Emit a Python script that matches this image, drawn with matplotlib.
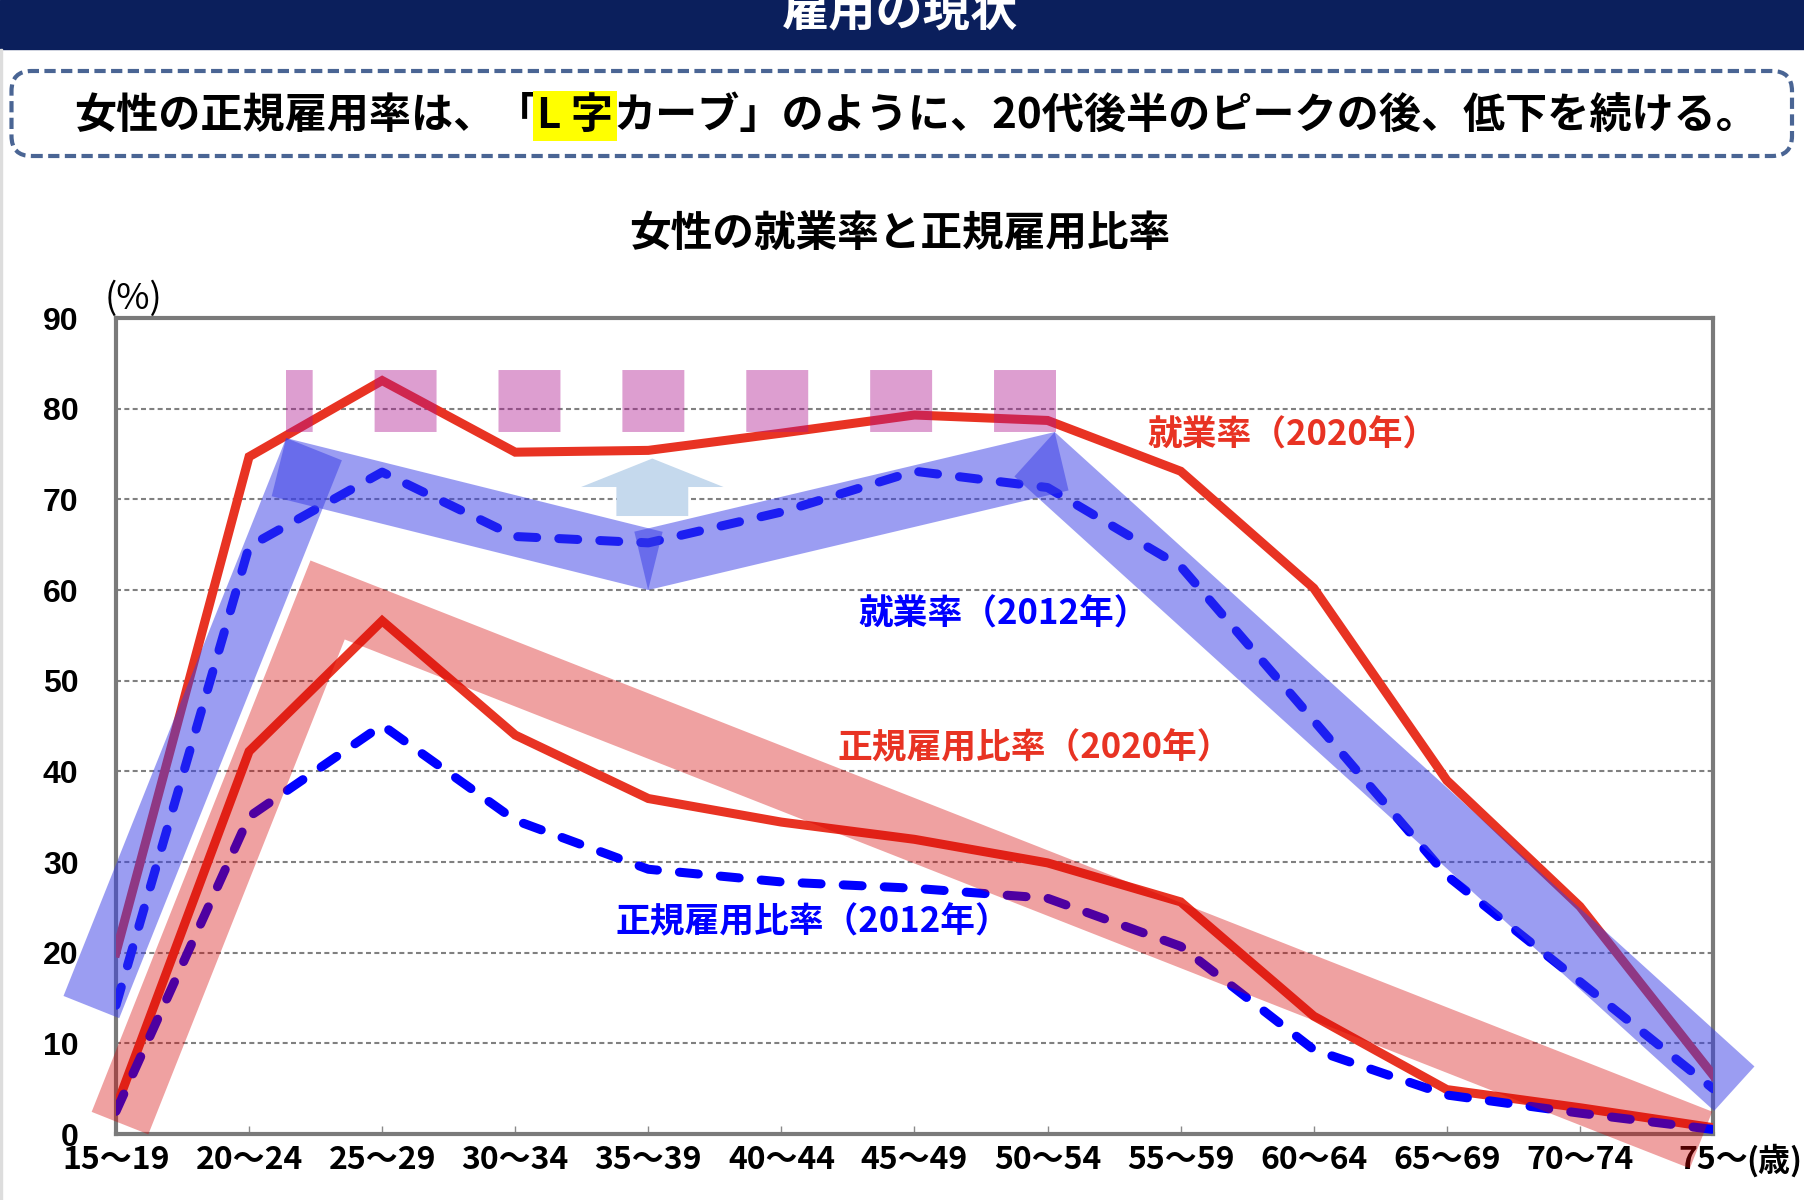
import matplotlib
matplotlib.use('Agg')
import matplotlib.pyplot as plt
import numpy as np
from matplotlib.patches import Polygon, FancyBboxPatch, Rectangle, FancyArrow

plt.rcParams['font.family'] = ['Noto Sans CJK JP', 'DejaVu Sans']

# ---------------- data ----------------
categories = ['15～19', '20～24', '25～29', '30～34', '35～39', '40～44', '45～49',
              '50～54', '55～59', '60～64', '65～69', '70～74', '75～']
emp_2020 = [20.0, 74.7, 83.1, 75.2, 75.4, 77.3, 79.3, 78.7, 73.1, 60.2, 39.0, 25.1, 6.5]
emp_2012 = [14.2, 64.8, 73.0, 65.9, 65.2, 68.6, 73.1, 71.3, 62.6, 45.6, 28.5, 16.8, 5.0]
reg_2020 = [2.9, 42.2, 56.6, 44.0, 37.0, 34.4, 32.5, 29.9, 25.6, 13.0, 4.9, 2.9, 0.7]
reg_2012 = [2.5, 35.0, 45.1, 34.6, 29.2, 27.8, 27.1, 26.0, 20.7, 9.3, 4.3, 2.3, 0.5]
y_ticks = [0, 10, 20, 30, 40, 50, 60, 70, 80, 90]

# decorative emphasis shapes (category index, %)
emp_band = [(-0.185, 14.0), (1.415, 72.85), (4.0, 63.4), (6.99, 73.8), (12.16, 5.0)]
reg_band = [(0.03, 1.2), (1.59, 58.9), (11.91, -0.66)]
peak_marks = [(7.066, 80.85), (1.278, 80.85)]
arrow_base = (4.03, 68.16)
arrow_tip_y = 74.5
arrow_head_y = 71.36

labels = [('就業率（2020年）', 8.84, 77.1, 'red'),
          ('就業率（2012年）', 6.67, 57.4, 'blue'),
          ('正規雇用比率（2020年）', 6.90, 42.6, 'red'),
          ('正規雇用比率（2012年）', 5.24, 23.35, 'blue')]

RED = '#e83323'
BLUE = '#0000ff'
W, H = 1804, 1200

fig = plt.figure(figsize=(W / 100, H / 100), dpi=100)
fig.patch.set_facecolor('white')
ax = fig.add_axes([116 / W, 1 - 1134 / H, (1713 - 116) / W, (1134 - 318) / H])
x = np.arange(len(categories))
ax.set_xlim(0, len(categories) - 1)
ax.set_ylim(0, 90)

# grid
ax.set_yticks(y_ticks)
ax.yaxis.grid(True, color='#808080', lw=1.5, linestyle=(0, (2.4, 1.6)))
ax.set_axisbelow(True)

# lines
ax.plot(x, emp_2020, color=RED, lw=6.5, solid_joinstyle='miter', zorder=3)
ax.plot(x, reg_2020, color=RED, lw=6.5, solid_joinstyle='miter', zorder=3)
ax.plot(x, emp_2012, color=BLUE, lw=6.5, dashes=(2.1, 2.45), dash_capstyle='round',
        dash_joinstyle='round', zorder=3)
ax.plot(x, reg_2012, color=BLUE, lw=6.5, dashes=(2.1, 2.45), dash_capstyle='round',
        dash_joinstyle='round', zorder=3)


def band_polys(pts_data, width_px):
    """Rectangles per segment; at each joint both rectangles are cut
    perpendicularly through the outer miter point, so they overlap inside."""
    P = ax.transData.transform(np.array(pts_data))
    h = width_px / 2.0
    n = len(P) - 1
    d, nr = [], []
    for i in range(n):
        v = P[i + 1] - P[i]
        v = v / np.hypot(v[0], v[1])
        d.append(v)
        nr.append(np.array([-v[1], v[0]]))

    def inter(A, da, B, db):
        M = np.array([da, -db]).T
        t, s = np.linalg.solve(M, B - A)
        return A + t * da

    joints = {}
    for j in range(1, n):
        cr = d[j - 1][0] * d[j][1] - d[j - 1][1] * d[j][0]
        side = -1 if cr > 0 else 1
        A = P[j] + side * nr[j - 1] * h
        B = P[j] + side * nr[j] * h
        O = inter(A, d[j - 1], B, d[j])
        joints[j] = (O, side)

    polys = []
    for i in range(n):
        if i == 0:
            sL, sR = P[0] + nr[0] * h, P[0] - nr[0] * h
        else:
            O, s = joints[i]
            if s > 0:
                sL, sR = O, O - 2 * h * nr[i]
            else:
                sL, sR = O + 2 * h * nr[i], O
        if i == n - 1:
            eL, eR = P[i + 1] + nr[i] * h, P[i + 1] - nr[i] * h
        else:
            O, s = joints[i + 1]
            if s > 0:
                eL, eR = O, O - 2 * h * nr[i]
            else:
                eL, eR = O + 2 * h * nr[i], O
        poly = np.array([sL, eL, eR, sR])
        polys.append(ax.transData.inverted().transform(poly))
    return polys


for poly in band_polys(emp_band, 60):
    ax.add_patch(Polygon(poly, closed=True, facecolor=(0.22, 0.24, 0.9), alpha=0.5,
                         edgecolor='none', zorder=4, clip_on=False))

bx, by = zip(*reg_band)
ax.plot(bx, by, color=(0.84, 0.0, 0.0), alpha=0.37, lw=43.9, solid_capstyle='butt',
        solid_joinstyle='miter', clip_on=False, zorder=4)

px, py = zip(*peak_marks)
ax.plot(px, py, color=(0.68, 0.08, 0.56), alpha=0.41, lw=44.6, linestyle=(0, (1, 1)),
        dash_capstyle='butt', zorder=5)

ax.add_patch(FancyArrow(arrow_base[0], arrow_base[1], 0, arrow_tip_y - arrow_base[1],
                        width=0.54, head_width=1.07, head_length=arrow_tip_y - arrow_head_y,
                        length_includes_head=True, color='#c5d9ed', lw=0, zorder=2))

for txt, lx, ly, c in labels:
    ax.text(lx, ly, txt, color=RED if c == 'red' else BLUE, fontsize=25,
            fontweight='bold', ha='center', va='center', zorder=6)

# axes styling
for s in ax.spines.values():
    s.set_color('#7a7a7a')
    s.set_linewidth(3)
ax.set_xticks(x)
ax.set_xticklabels(categories, fontsize=23, fontweight='bold')
ax.tick_params(axis='x', direction='in', length=6, width=1, color='#8a8a8a', pad=7)
ax.set_yticklabels([str(v) for v in y_ticks], fontsize=23, fontweight='bold',
                   family=['Liberation Sans', 'DejaVu Sans'])
ax.tick_params(axis='y', length=0, pad=27)
ax.annotate('(歳)', xy=(len(categories) - 1, 0), xycoords='data', xytext=(24, -7),
            textcoords='offset points', ha='left', va='top', fontsize=23,
            fontweight='bold', annotation_clip=False)
ax.text(0.011, 1.023, '(%)', transform=ax.transAxes, ha='center', va='center',
        fontsize=26)

# header banner
fig.add_artist(Rectangle((0, 1 - 48.5 / H), 1, 48.5 / H, transform=fig.transFigure,
                         color='#0b1f5c', zorder=0))
fig.text(900 / W, 1 - 11 / H, '雇用の現状', color='white', fontsize=34,
         fontweight='bold', ha='center', va='center')
fig.add_artist(Rectangle((0, 0), 2 / W, 1 - 48.5 / H, transform=fig.transFigure,
                         color='#dddddd', zorder=0))

# dashed message box
fig.add_artist(FancyBboxPatch((11.5 / 100, (H - 156) / 100), (1792 - 11.5) / 100, 0.85,
                              boxstyle='round,pad=0,rounding_size=0.2',
                              transform=fig.dpi_scale_trans, fill=False,
                              edgecolor='#4a6594', lw=3, linestyle=(0, (2.7, 1.3))))

parts = ['女性の正規雇用率は、「', 'L 字', 'カーブ」のように、20代後半のピークの後、低下を続ける。']
yline = 1 - 116 / H
t1 = fig.text(0, yline, parts[0], fontsize=30.3, fontweight='bold', ha='left', va='center')
t2 = fig.text(0, yline, parts[1], fontsize=30.3, fontweight='bold', ha='left', va='center',
              bbox=dict(boxstyle='square,pad=0.1', fc='#ffff00', ec='none'))
t3 = fig.text(0, yline, parts[2], fontsize=30.3, fontweight='bold', ha='left', va='center')
fig.canvas.draw()
r = fig.canvas.get_renderer()
w1 = t1.get_window_extent(renderer=r).width
w2 = t2.get_window_extent(renderer=r).width
w3 = t3.get_window_extent(renderer=r).width
start = 916 - (w1 + w2 + w3) / 2
t1.set_x(start / W)
t2.set_x((start + w1) / W)
t3.set_x((start + w1 + w2) / W)

# title
fig.text(900 / W, 1 - 235 / H, '女性の就業率と正規雇用比率', fontsize=30,
         fontweight='bold', ha='center', va='center')

fig.savefig('out.png', dpi=100)
